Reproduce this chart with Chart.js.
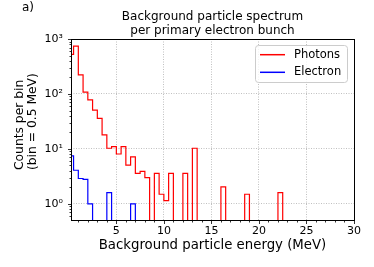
<!DOCTYPE html>
<html>
<head>
<meta charset="utf-8">
<script src="https://cdn.jsdelivr.net/npm/chart.js@4.4.1/dist/chart.umd.min.js"></script>
<style>
  html, body { margin: 0; padding: 0; background: #fff; }
  #spectrumChart { display: block; }
</style>
</head>
<body>
<canvas id="spectrumChart" width="374" height="267"></canvas>
<script>
// Histogram bins: lower edge of each bin (MeV), bin width 0.5 MeV
const binStarts = [0, 0.5, 1, 1.5, 2, 2.5, 3, 3.5, 4, 4.5,
                   5, 5.5, 6, 6.5, 7, 7.5, 8, 8.5, 9, 9.5,
                   10, 10.5, 11, 11.5, 12, 12.5, 13, 13.5, 14, 14.5,
                   15, 15.5, 16, 16.5, 17, 17.5, 18, 18.5, 19, 19.5,
                   20, 20.5, 21, 21.5, 22];
const binWidth = 0.5;

// Counts per bin (0 = empty bin)
const photonCounts = [526, 740, 222, 108, 78, 51, 36, 18, 10.3, 11,
                      8.1, 11, 5.1, 7.2, 3.6, 3.9, 3.0, 0, 3.6, 1.5,
                      1.15, 3.6, 0, 0, 3.6, 0, 10.3, 0, 0, 0,
                      0, 0, 2.05, 0, 0, 0, 0, 1.5, 0, 0,
                      0, 0, 0, 0, 1.6];
const electronCounts = [7.5, 4.1, 2.9, 2.8, 1.0, 0, 0, 0, 1.6, 0,
                        0, 0, 0, 1.0];

const xTickValues = [5, 10, 15, 20, 25, 30];
const yTickValues = [1, 10, 100, 1000];
const yTickLabels = ['10⁰', '10¹', '10²', '10³'];

const FONT = '"DejaVu Sans", sans-serif';

// Turn bin counts into points for a step line (empty bins drop below the axis)
function stepPoints(counts) {
    const pts = counts.map((c, i) => ({ x: binStarts[i], y: c > 0 ? c : 1e-3 }));
    pts.push({ x: binStarts[counts.length - 1] + binWidth, y: 1e-3 });
    return pts;
}

// Frame, tick marks, y label, panel letter and legend
const decorPlugin = {
    id: 'decor',
    afterDraw(chart) {
        const { ctx, chartArea: a, scales: { x, y } } = chart;
        const L = Math.floor(a.left) + 0.5, R = Math.floor(a.right) + 0.5;
        const T = Math.floor(a.top) + 0.5, B = Math.floor(a.bottom) + 0.5;
        ctx.save();

        // axes frame
        ctx.strokeStyle = '#000';
        ctx.lineWidth = 1;
        ctx.strokeRect(L, T, R - L, B - T);

        // tick marks (major + minor)
        ctx.lineWidth = 0.8;
        ctx.beginPath();
        for (let v = 1; v <= 30; v++) {
            if (v < x.min) continue;
            const px = Math.round(x.getPixelForValue(v)) + 0.5;
            const len = v % 5 === 0 ? 3.5 : 2;
            ctx.moveTo(px, B);
            ctx.lineTo(px, B + len);
        }
        [0.1, 1, 10, 100].forEach(d => {
            for (let m = 1; m <= 9; m++) {
                const v = d * m;
                if (v < y.min - 1e-9 || v > y.max + 1e-9) continue;
                const py = Math.round(y.getPixelForValue(v)) + 0.5;
                const len = m === 1 ? 3.5 : 2;
                ctx.moveTo(L, py);
                ctx.lineTo(L - len, py);
            }
        });
        ctx.moveTo(L, T);
        ctx.lineTo(L - 3.5, T);
        ctx.stroke();

        // y axis label (two lines, rotated)
        ctx.fillStyle = '#000';
        ctx.font = '12.3px ' + FONT;
        ctx.textAlign = 'left';
        ctx.textBaseline = 'middle';
        [['Counts per bin', 20], ['(bin = 0.5 MeV)', 33]].forEach(([txt, cx]) => {
            ctx.save();
            ctx.translate(cx, 170);
            ctx.rotate(-Math.PI / 2);
            ctx.fillText(txt, 0, 0);
            ctx.restore();
        });

        // panel letter
        ctx.font = '12px ' + FONT;
        ctx.fillText('a)', 22, 8);

        // legend
        const lx = 255.5, ly = 45.5, lw = 92, lh = 37;
        ctx.beginPath();
        ctx.roundRect(lx, ly, lw, lh, 3);
        ctx.fillStyle = 'rgba(255,255,255,0.8)';
        ctx.fill();
        ctx.strokeStyle = '#cccccc';
        ctx.lineWidth = 1;
        ctx.stroke();
        ctx.font = '11.5px ' + FONT;
        chart.data.datasets.forEach((ds, i) => {
            const yy = 54.7 + i * 17.6;
            ctx.strokeStyle = ds.borderColor;
            ctx.lineWidth = 1.5;
            ctx.beginPath();
            ctx.moveTo(260, yy);
            ctx.lineTo(285, yy);
            ctx.stroke();
            ctx.fillStyle = '#000';
            ctx.fillText(ds.label, 294, yy);
        });

        ctx.restore();
    }
};

const ctx = document.getElementById('spectrumChart').getContext('2d');
const spectrumChart = new Chart(ctx, {
    type: 'line',
    data: {
        datasets: [
            {
                label: 'Photons',
                data: stepPoints(photonCounts),
                borderColor: '#ff0000',
                borderWidth: 1.2,
                stepped: true,
                pointRadius: 0,
                fill: false
            },
            {
                label: 'Electron',
                data: stepPoints(electronCounts),
                borderColor: '#0000ff',
                borderWidth: 1.2,
                stepped: true,
                pointRadius: 0,
                fill: false
            }
        ]
    },
    options: {
        responsive: false,
        animation: false,
        devicePixelRatio: 1,
        layout: { padding: { left: 0, right: 20, top: 0, bottom: 0 } },
        plugins: {
            legend: { display: false },
            tooltip: { enabled: false },
            title: {
                display: true,
                fullSize: false,
                text: ['Background particle spectrum', 'per primary electron bunch'],
                color: '#000',
                font: { family: FONT, size: 12, weight: 'normal', lineHeight: 1.2 },
                padding: { top: 9.5, bottom: 0.7 }
            }
        },
        scales: {
            x: {
                type: 'linear',
                min: 0.23,
                max: 30,
                afterBuildTicks: s => { s.ticks = xTickValues.map(v => ({ value: v })); },
                afterFit: s => { s.height = 47; },
                ticks: {
                    color: '#000',
                    font: { family: FONT, size: 11 },
                    padding: 5,
                    maxRotation: 0,
                    autoSkip: false
                },
                grid: { color: '#b0b0b0', lineWidth: 0.8, drawTicks: false },
                border: { display: false, dash: [1, 1.5] },
                title: {
                    display: true,
                    text: 'Background particle energy (MeV)',
                    color: '#000',
                    font: { family: FONT, size: 13.3 },
                    padding: { top: 0, bottom: 13 }
                }
            },
            y: {
                type: 'logarithmic',
                min: 0.51,
                max: 1000,
                afterBuildTicks: s => { s.ticks = yTickValues.map(v => ({ value: v })); },
                afterFit: s => { s.width = 71; },
                ticks: {
                    color: '#000',
                    font: { family: FONT, size: 11 },
                    padding: 8,
                    autoSkip: false,
                    callback: v => {
                        const i = yTickValues.indexOf(v);
                        return i >= 0 ? yTickLabels[i] : '';
                    }
                },
                grid: { color: '#b0b0b0', lineWidth: 0.8, drawTicks: false },
                border: { display: false, dash: [1, 1.5] }
            }
        }
    },
    plugins: [decorPlugin]
});
</script>
</body>
</html>
